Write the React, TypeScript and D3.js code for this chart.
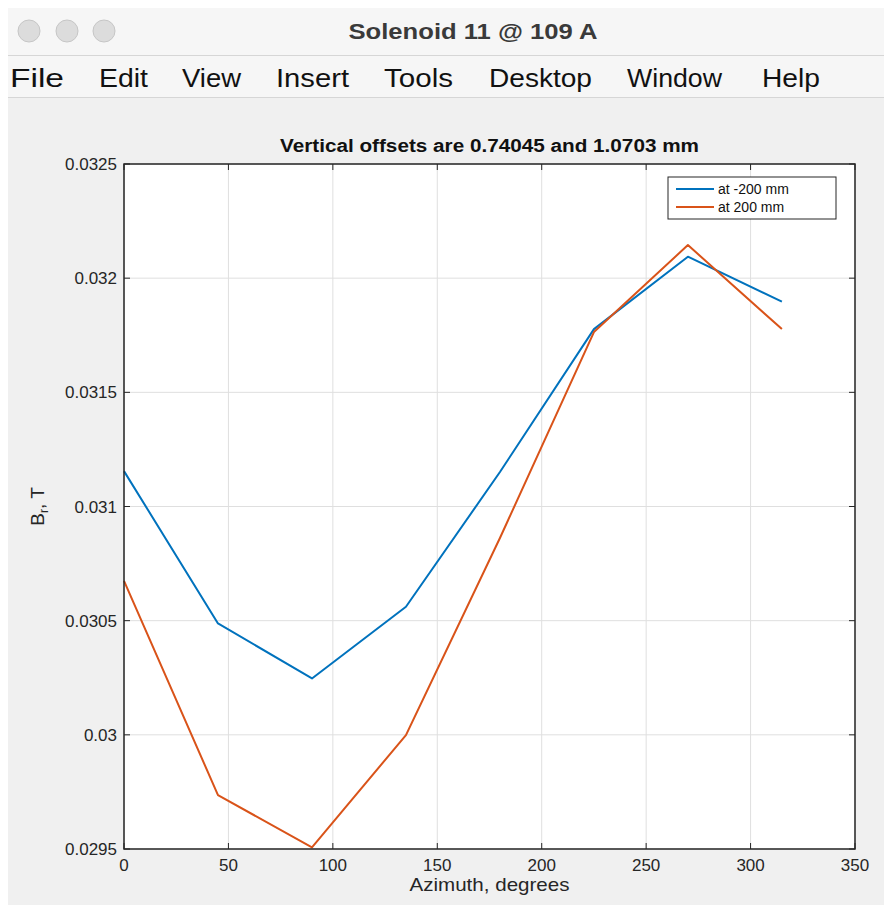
import React from 'react';
import * as d3 from 'd3';

// azimuth positions (degrees)
const azimuth = [0, 45, 90, 135, 180, 225, 270, 315];
// B_r at -200 mm and at 200 mm (T)
const brMinus200 = [0.031155, 0.030488, 0.030247, 0.030561, 0.031151, 0.031777, 0.032094, 0.031897];
const brPlus200 = [0.030674, 0.029736, 0.029507, 0.029999, 0.030862, 0.031764, 0.032145, 0.031777];
const seriesNames = ['at -200 mm', 'at 200 mm'];
const xTicks = [0, 50, 100, 150, 200, 250, 300, 350];
const yTicks = [0.0295, 0.03, 0.0305, 0.031, 0.0315, 0.032, 0.0325];
const menuItems = ['File', 'Edit', 'View', 'Insert', 'Tools', 'Desktop', 'Window', 'Help'];
const menuX = [10, 99, 182, 276, 384, 489, 627, 762];
const menuW = [54, 49, 59, 73, 69, 103, 95, 58];

const W = 884;
const H = 909;
const plot = { left: 124, right: 855, top: 164, bottom: 849 };
const colors = ['#0072BD', '#D95319'];
const font = '"Liberation Sans", Arial, Helvetica, sans-serif';
const axisColor = '#262626';

const App = () => {
  const x = d3.scaleLinear().domain([0, 350]).range([plot.left, plot.right]);
  const y = d3.scaleLinear().domain([0.0295, 0.0325]).range([plot.bottom, plot.top]);
  const line = d3.line<number>()
    .x((_, i) => x(azimuth[i]))
    .y(d => y(d));
  const series = [brMinus200, brPlus200];
  const fmt = (v: number) => String(+v.toFixed(4));
  const tick = 6;

  return (
    <svg width={W} height={H} style={{ position: 'absolute', left: 0, top: 0, fontFamily: font }}>
      <rect x={0} y={0} width={W} height={H} fill="#ffffff" />
      {/* window chrome */}
      <rect x={8} y={8} width={W - 8} height={H - 12} fill="#f0f0f0" />
      <rect x={8} y={8} width={W - 8} height={47} fill="#f6f6f6" />
      <line x1={8} x2={W} y1={55.5} y2={55.5} stroke="#d6d6d6" />
      {[29, 67, 104].map((cx, i) => (
        <circle key={i} cx={cx} cy={31} r={11} fill="#dcdcdc" stroke="#c6c6c6" strokeWidth={1} />
      ))}
      <text x={473} y={39} textAnchor="middle" fontSize={22} fontWeight="bold" fill="#3a3a3a"
        textLength={249} lengthAdjust="spacingAndGlyphs">
        Solenoid 11 @ 109 A
      </text>
      <rect x={8} y={56} width={W - 8} height={41} fill="#f6f6f6" />
      {menuItems.map((m, i) => (
        <text key={m} x={menuX[i]} y={87} fontSize={26} fill="#111"
          textLength={menuW[i]} lengthAdjust="spacingAndGlyphs">{m}</text>
      ))}
      <line x1={8} x2={W} y1={97.5} y2={97.5} stroke="#d6d6d6" />

      {/* axes background */}
      <rect x={plot.left} y={plot.top} width={plot.right - plot.left} height={plot.bottom - plot.top} fill="#ffffff" />
      {/* grid */}
      {xTicks.map(t => (
        <line key={'gx' + t} x1={x(t)} x2={x(t)} y1={plot.top} y2={plot.bottom} stroke="#dfdfdf" />
      ))}
      {yTicks.map(t => (
        <line key={'gy' + t} x1={plot.left} x2={plot.right} y1={y(t)} y2={y(t)} stroke="#dfdfdf" />
      ))}
      {/* data lines */}
      {series.map((s, i) => (
        <path key={i} d={line(s) || ''} fill="none" stroke={colors[i]} strokeWidth={2} strokeLinejoin="round" />
      ))}
      {/* box and ticks */}
      <rect x={plot.left} y={plot.top} width={plot.right - plot.left} height={plot.bottom - plot.top}
        fill="none" stroke={axisColor} strokeWidth={1.5} />
      {xTicks.map(t => (
        <g key={'tx' + t}>
          <line x1={x(t)} x2={x(t)} y1={plot.bottom} y2={plot.bottom - tick} stroke={axisColor} />
          <line x1={x(t)} x2={x(t)} y1={plot.top} y2={plot.top + tick} stroke={axisColor} />
          <text x={x(t)} y={871} textAnchor="middle" fontSize={17} fill={axisColor}>{fmt(t)}</text>
        </g>
      ))}
      {yTicks.map(t => (
        <g key={'ty' + t}>
          <line x1={plot.left} x2={plot.left + tick} y1={y(t)} y2={y(t)} stroke={axisColor} />
          <line x1={plot.right} x2={plot.right - tick} y1={y(t)} y2={y(t)} stroke={axisColor} />
          <text x={117} y={y(t) + 6} textAnchor="end" fontSize={17} fill={axisColor}>{fmt(t)}</text>
        </g>
      ))}
      {/* labels */}
      <text x={(plot.left + plot.right) / 2} y={152} textAnchor="middle" fontSize={18} fontWeight="bold" fill="#111"
        textLength={419} lengthAdjust="spacingAndGlyphs">
        Vertical offsets are 0.74045 and 1.0703 mm
      </text>
      <text x={(plot.left + plot.right) / 2} y={891} textAnchor="middle" fontSize={19} fill={axisColor}
        textLength={160} lengthAdjust="spacingAndGlyphs">
        Azimuth, degrees
      </text>
      <text transform={`translate(44, ${(plot.top + plot.bottom) / 2}) rotate(-90)`} textAnchor="middle" fontSize={19} fill={axisColor}>
        B<tspan fontSize={12} dy={4}>r</tspan><tspan dy={-4}>, T</tspan>
      </text>
      {/* legend */}
      <rect x={668} y={177} width={168} height={42} fill="#ffffff" stroke={axisColor} strokeWidth={1} />
      {seriesNames.map((n, i) => (
        <g key={n}>
          <line x1={676} x2={714} y1={189 + i * 18} y2={189 + i * 18} stroke={colors[i]} strokeWidth={2} />
          <text x={718} y={194 + i * 18} fontSize={14} fill="#111">{n}</text>
        </g>
      ))}
    </svg>
  );
};

export default App;
